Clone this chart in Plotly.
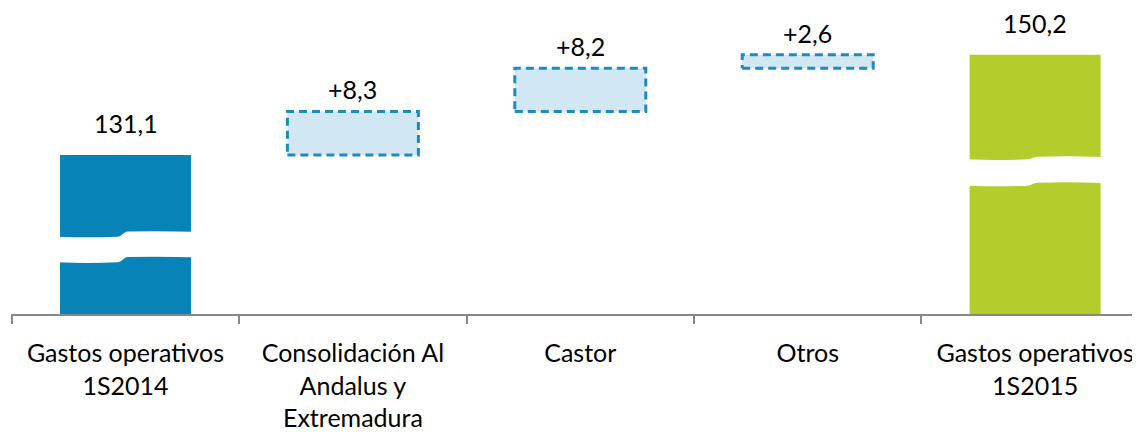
import plotly.graph_objects as go

# ---------------- data ----------------
categories = ["Gastos operativos<br>1S2014",
              "Consolidación Al<br>Andalus y<br>Extremadura",
              "Castor",
              "Otros",
              "Gastos operativos<br>1S2015"]
start_value = 131.1
deltas = [8.3, 8.2, 2.6]
end_value = 150.2
value_labels = ["131,1", "+8,3", "+8,2", "+2,6", "150,2"]

# ---------------- style ----------------
FONT = "Lato"
FS = 25
BLUE = "#0783B8"
GREEN = "#B5CC2D"
DASH_LINE = "#1E8AC3"
DASH_FILL = "#D1E8F4"
AXIS = "#878787"
BAR_W = 0.576
Y_RANGE = [100.84, 159.08]
X_RANGE = [-0.5035, 4.4965]

xs = list(range(len(categories)))

fig = go.Figure()

# total bars
fig.add_trace(go.Bar(x=[xs[0]], y=[start_value], width=BAR_W,
                     marker=dict(color=BLUE, line=dict(width=0)),
                     hoverinfo="skip", showlegend=False))
fig.add_trace(go.Bar(x=[xs[-1]], y=[end_value], width=BAR_W,
                     marker=dict(color=GREEN, line=dict(width=0)),
                     hoverinfo="skip", showlegend=False))

# delta boxes (dashed)
tops = [start_value]
running = start_value
for i, d in enumerate(deltas):
    xc = xs[i + 1]
    b = running
    t = running + d
    running = t
    tops.append(t)
    h = BAR_W / 2
    fig.add_trace(go.Scatter(
        x=[xc - h, xc + h, xc + h, xc - h, xc - h],
        y=[b, b, t, t, b],
        mode="lines", fill="toself", fillcolor=DASH_FILL,
        line=dict(color=DASH_LINE, width=3, dash="8px,5px"),
        hoverinfo="skip", showlegend=False))
tops.append(end_value)

# value labels
for i, (x, t, lab) in enumerate(zip(xs, tops, value_labels)):
    total = i in (0, len(xs) - 1)
    fig.add_annotation(x=x, y=t, text=lab, showarrow=False,
                       yanchor="middle", yshift=32 if total else 22,
                       borderpad=0,
                       font=dict(family=FONT, size=FS, color="#000000"))

# axis break decorations (white wavy bands)
def break_path(xc, halfw, ytl, ytr, ybl, ybr):
    xl = xc - halfw - 0.01
    xr = xc + halfw + 0.01
    s0 = xc - 0.035
    s1 = xc + 0.01
    d = 0.015
    return (f"M {xl},{ytl} Q {(xl+s0)/2},{ytl-0.25} {s0},{ytl} "
            f"C {s0+d},{ytl} {s1-d},{ytr} {s1},{ytr} "
            f"Q {(s1+xr)/2},{ytr+0.15} {xr},{ytr-0.05} "
            f"L {xr},{ybr-0.05} Q {(s1+xr)/2},{ybr+0.15} {s1},{ybr} "
            f"C {s1-d},{ybr} {s0+d},{ybl} {s0},{ybl} "
            f"Q {(xl+s0)/2},{ybl-0.25} {xl},{ybl} Z")

fig.add_shape(type="path", xref="x", yref="y",
              path=break_path(xs[0], BAR_W / 2, 115.55, 116.54, 110.68, 111.69),
              fillcolor="white", line=dict(width=0))
fig.add_shape(type="path", xref="x", yref="y",
              path=break_path(xs[-1], BAR_W / 2, 130.28, 130.78, 125.26, 125.83),
              fillcolor="white", line=dict(width=0))

fig.update_layout(
    width=1140, height=432,
    margin=dict(l=3, r=0, t=0, b=126, autoexpand=False),
    paper_bgcolor="white", plot_bgcolor="white",
    barmode="overlay",
    font=dict(family=FONT, size=FS, color="#000000"),
    xaxis=dict(range=X_RANGE, tickmode="array", tickvals=xs, ticktext=categories,
               ticks="", showgrid=False, zeroline=False, automargin=False,
               ticklabelstandoff=16,
               showline=True, linecolor=AXIS, linewidth=2,
               tickfont=dict(family=FONT, size=FS, color="#000000"),
               minor=dict(tickmode="array",
                          tickvals=[x - 0.5 for x in xs] + [xs[-1] + 0.5],
                          ticks="outside", ticklen=8, tickwidth=2,
                          tickcolor=AXIS, showgrid=False)),
    yaxis=dict(range=Y_RANGE, visible=False, showgrid=False, zeroline=False,
               automargin=False),
)

fig.write_html("out.html")
